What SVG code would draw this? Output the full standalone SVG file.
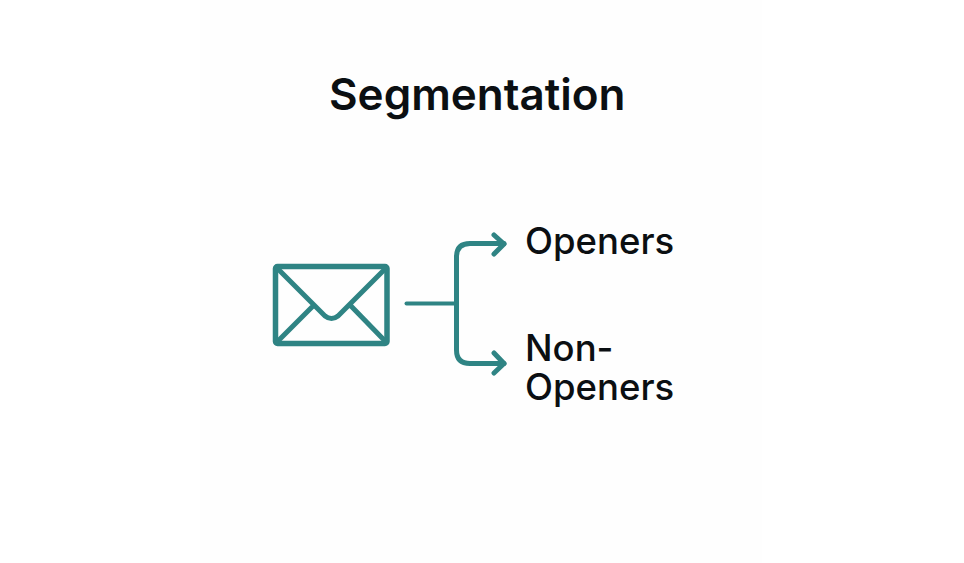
<svg xmlns="http://www.w3.org/2000/svg" width="964" height="563" viewBox="0 0 964 563">
<style>
text{font-family:"Inter","Liberation Sans",sans-serif;fill:#0b0f12}
.t{font-size:44px;font-weight:600}
.l{font-size:36.500px;font-weight:500}
.s{fill:none;stroke:#2f8484;stroke-linecap:round;stroke-linejoin:round}
</style>
<rect width="964" height="563" fill="#ffffff"/>
<rect x="200" y="0" width="562" height="563" fill="#fefefe"/>
<g id="title"><text class="t" x="329" y="110">Segmentation</text></g>
<g id="envelope">
<rect class="s" x="275.500" y="266.500" width="111.500" height="77" rx="2" stroke-width="5.500"/>
<path class="s" stroke-width="5" d="M277 268L325 316Q331.500 321 338 316L386 268M277 342L313 306M386 342L351 306"/>
</g>
<g id="connectors">
<path class="s" stroke-width="4" d="M406.500 303.500H456"/>
<path class="s" stroke-width="5" d="M504 243.500H470Q456.500 243.500 456.500 257V350Q456.500 363.500 470 363.500H504"/>
<path class="s" stroke-width="5" d="M494 235L504 244L494 254M494 353L504 363.500L494 373"/>
</g>
<g id="openers"><text class="l" x="525" y="254">Openers</text></g>
<g id="non-openers"><text class="l" x="525" y="361">Non-<tspan x="525" y="400">Openers</tspan></text></g>
</svg>
